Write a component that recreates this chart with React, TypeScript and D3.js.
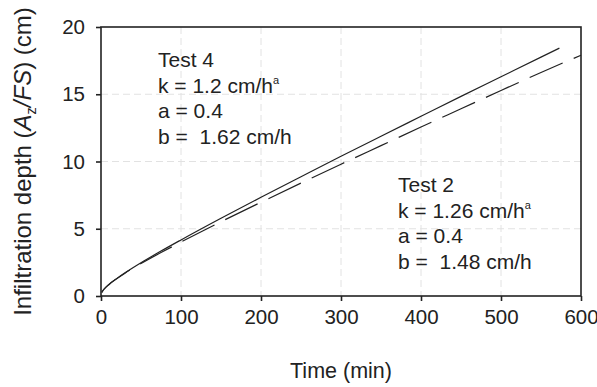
import { useEffect, useRef } from "react"
import * as d3 from "d3"

// Test 4 (solid)
const test4Time = [1, 2, 5, 10, 20, 30, 50, 75, 100, 150, 200, 250, 300, 350, 400, 450, 500, 550, 573]
const test4Depth = [0.26, 0.36, 0.58, 0.86, 1.31, 1.72, 2.47, 3.34, 4.17, 5.78, 7.34, 8.87, 10.39, 11.88, 13.36, 14.84, 16.3, 17.76, 18.43]

// Test 2 (dashed)
const test2Time = [1, 2, 5, 10, 20, 30, 50, 75, 100, 150, 200, 250, 300, 350, 400, 450, 500, 550, 600]
const test2Depth = [0.27, 0.37, 0.59, 0.86, 1.3, 1.7, 2.41, 3.23, 4.01, 5.52, 6.97, 8.4, 9.8, 11.18, 12.56, 13.92, 15.28, 16.62, 17.9]

const xTicks = [0, 100, 200, 300, 400, 500, 600]
const yTicks = [0, 5, 10, 15, 20]

const test4Label = ["Test 4", "k = 1.2 cm/h", "a = 0.4", "b =  1.62 cm/h"]
const test2Label = ["Test 2", "k = 1.26 cm/h", "a = 0.4", "b =  1.48 cm/h"]

export default function App() {
  const svgRef = useRef(null)

  useEffect(() => {
    if (!svgRef.current) return
    const svg = d3.select(svgRef.current)
    svg.selectAll("*").remove()

    const width = 597
    const height = 387
    const margin = { top: 27, right: 16, bottom: 91, left: 101 }
    const innerWidth = width - margin.left - margin.right
    const innerHeight = height - margin.top - margin.bottom
    const font = "'Liberation Sans', Arial, sans-serif"
    const ink = "#222"

    const x = d3.scaleLinear().domain([0, 600]).range([0, innerWidth])
    const y = d3.scaleLinear().domain([0, 20]).range([innerHeight, 0])

    const g = svg.append("g").attr("transform", `translate(${margin.left},${margin.top})`)

    // 网格线
    g.selectAll(".vgrid")
      .data(xTicks.slice(1, -1))
      .enter()
      .append("line")
      .attr("x1", (d) => x(d))
      .attr("x2", (d) => x(d))
      .attr("y1", 0)
      .attr("y2", innerHeight)
      .attr("stroke", "#e2e2e2")
      .attr("stroke-dasharray", "7,4")
    g.selectAll(".hgrid")
      .data(yTicks.slice(1, -1))
      .enter()
      .append("line")
      .attr("x1", 0)
      .attr("x2", innerWidth)
      .attr("y1", (d) => y(d))
      .attr("y2", (d) => y(d))
      .attr("stroke", "#e2e2e2")
      .attr("stroke-dasharray", "7,4")

    // curves
    const line = d3
      .line<[number, number]>()
      .x((d) => x(d[0]))
      .y((d) => y(d[1]))
      .curve(d3.curveMonotoneX)

    g.append("path")
      .datum(test2Time.map((t, i) => [t, test2Depth[i]] as [number, number]))
      .attr("d", line)
      .attr("fill", "none")
      .attr("stroke", ink)
      .attr("stroke-width", 1.2)
      .attr("stroke-dasharray", "36,12")

    g.append("path")
      .datum(test4Time.map((t, i) => [t, test4Depth[i]] as [number, number]))
      .attr("d", line)
      .attr("fill", "none")
      .attr("stroke", ink)
      .attr("stroke-width", 1.2)

    // frame
    g.append("rect")
      .attr("width", innerWidth)
      .attr("height", innerHeight)
      .attr("fill", "none")
      .attr("stroke", ink)
      .attr("stroke-width", 1.6)

    // axes
    const xAxis = g
      .append("g")
      .attr("transform", `translate(0,${innerHeight})`)
      .call(d3.axisBottom(x).tickValues(xTicks).tickSize(5).tickPadding(8).tickFormat(d3.format("d")))
    const yAxis = g
      .append("g")
      .call(d3.axisLeft(y).tickValues(yTicks).tickSize(5).tickPadding(11).tickFormat(d3.format("d")))

    for (const ax of [xAxis, yAxis]) {
      ax.select(".domain").remove()
      ax.selectAll("line").attr("stroke", ink).attr("stroke-width", 1.6)
      ax.selectAll("text").attr("font-family", font).attr("font-size", 20.5).attr("fill", ink)
    }

    // annotations
    const addLabel = (lines: string[], x0: number, y0: number) => {
      const t = svg
        .append("text")
        .attr("font-family", font)
        .attr("font-size", 21)
        .attr("fill", ink)
        .style("white-space", "pre")
      lines.forEach((s, i) => {
        t.append("tspan").attr("x", x0).attr("y", y0 + i * 25.7).text(s)
        if (i === 1) {
          t.append("tspan").attr("dy", -9).attr("font-size", 11).text("a")
        }
      })
    }
    addLabel(test4Label, 158, 67)
    addLabel(test2Label, 398, 192)

    // axis titles
    svg
      .append("text")
      .attr("x", margin.left + innerWidth / 2)
      .attr("y", 378)
      .attr("text-anchor", "middle")
      .attr("font-family", font)
      .attr("font-size", 21.5)
      .attr("fill", ink)
      .text("Time (min)")

    const yt = svg
      .append("text")
      .attr("transform", `translate(31,${margin.top + innerHeight / 2}) rotate(-90)`)
      .attr("text-anchor", "middle")
      .attr("font-family", font)
      .attr("font-size", 24)
      .attr("fill", ink)
    yt.append("tspan").text("Infiltration depth (")
    yt.append("tspan").attr("font-style", "italic").text("A")
    yt.append("tspan").attr("font-size", 14.5).attr("dy", 5).text("z")
    yt.append("tspan").attr("font-style", "italic").attr("dy", -5).text("/FS")
    yt.append("tspan").text(") (cm)")

    svg.attr("width", width).attr("height", height).attr("viewBox", [0, 0, width, height])
  }, [])

  return (
    <div style={{ position: "absolute", left: 0, top: 0 }}>
      <svg ref={svgRef} style={{ display: "block", background: "#fff" }}></svg>
    </div>
  )
}
